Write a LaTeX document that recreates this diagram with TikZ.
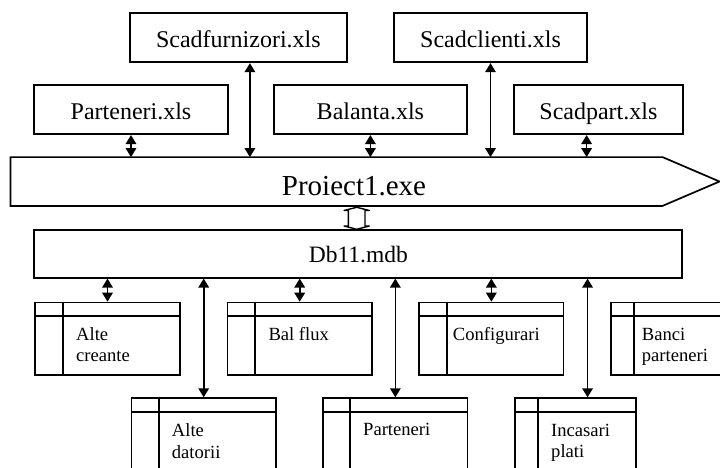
\documentclass[tikz,border=0pt]{standalone}
\usepackage{fontspec}
\setmainfont{Liberation Serif}
\usetikzlibrary{arrows.meta,calc}

\tikzset{
  box/.style={draw, rectangle, line width=1.7pt, inner sep=0pt},
  filebox/.style={box, minimum height=49pt, font=\fontsize{24}{28}\selectfont,
                  text height=19pt, text depth=0pt},
  tbl/.style={box, anchor=north west},
  tline/.style={line width=1.7pt},
  tlabel/.style={anchor=base west, inner sep=0pt, font=\fontsize{18.6}{22}\selectfont},
  dbl/.style={line width=1.6pt, {Triangle[width=10.5pt,length=9pt]}-{Triangle[width=10.5pt,length=9pt]}},
}

\begin{document}
\begin{tikzpicture}[x=1pt, y=-1pt]
\useasboundingbox (0,0) rectangle (720,467);
\clip (0,0) rectangle (720,467);

% spreadsheet files
\node[filebox, minimum width=216.7pt] (scf) at (238.4,37.8) {Scadfurnizori.xls};
\node[filebox, minimum width=192.4pt] (scc) at (490.5,37.8) {Scadclienti.xls};
\node[filebox, minimum width=193.4pt] (par) at (131,109.7) {Parteneri.xls};
\node[filebox, minimum width=192.7pt] (bal) at (370.4,109.7) {Balanta.xls};
\node[filebox, minimum width=168.7pt] (scp) at (598.4,109.7) {Scadpart.xls};

% executable (pointed bar)
\node[rectangle, inner sep=0pt, minimum width=651.6pt, minimum height=48.4pt] (exe) at (336.5,181.5) {};
\draw[line width=1.7pt, line join=miter]
  (exe.north west) -- (exe.north east) -- ($(exe.east)+(57,0)$)
  -- (exe.south east) -- (exe.south west) -- cycle;
\node[anchor=base, inner sep=0pt, font=\fontsize{29}{34}\selectfont] (exelbl) at (354,195) {Proiect1.exe};

% database
\node[box, minimum width=648pt, minimum height=47.7pt, font=\fontsize{23.5}{28}\selectfont,
      text height=17pt, text depth=0pt] (db) at (358.3,253.85) {Db11.mdb};

% link between executable and database
\coordinate (link) at (356.7,218.3);
\draw[line width=1.4pt, line join=round, shift={(link)}]
  (0,-11) -- (12.6,-7.8) -- (8.3,-7.8) -- (8.3,7.7) -- (12.6,7.7) -- (0,11)
  -- (-12.6,7.7) -- (-8.3,7.7) -- (-8.3,-7.8) -- (-12.6,-7.8) -- cycle;

% connectors files <-> executable
\coordinate (scfa) at ([xshift=11.5pt]scf.south);
\coordinate (scpa) at ([xshift=-11.8pt]scp.south);
\draw[dbl] (par.south) -- (par.south |- exe.north);
\draw[dbl] (scfa) -- (scfa |- exe.north);
\draw[dbl] (bal.south) -- (bal.south |- exe.north);
\draw[dbl] (scc.south) -- (scc.south |- exe.north);
\draw[dbl] (scpa) -- (scpa |- exe.north);

% tables, upper row
\node[tbl, minimum width=144.7pt, minimum height=72.6pt] (ac) at (34.3,301.7) {};
\draw[tline] ([yshift=-14pt]ac.north west) -- ([yshift=-14pt]ac.north east);
\draw[tline] ([xshift=28.4pt]ac.north west) -- ([xshift=28.4pt]ac.south west);
\node[tlabel] (ac1) at ([xshift=41.7pt,yshift=-38.3pt]ac.north west) {Alte};
\node[tlabel] (ac2) at ([xshift=41.7pt,yshift=-60pt]ac.north west) {creante};

\node[tbl, minimum width=144.3pt, minimum height=72.6pt] (bf) at (226.7,301.7) {};
\draw[tline] ([yshift=-14pt]bf.north west) -- ([yshift=-14pt]bf.north east);
\draw[tline] ([xshift=28.3pt]bf.north west) -- ([xshift=28.3pt]bf.south west);
\node[tlabel] (bf1) at ([xshift=41.6pt,yshift=-38.3pt]bf.north west) {Bal flux};

\node[tbl, minimum width=144.4pt, minimum height=72.6pt] (cf) at (418.3,301.7) {};
\draw[tline] ([yshift=-14pt]cf.north west) -- ([yshift=-14pt]cf.north east);
\draw[tline] ([xshift=28.4pt]cf.north west) -- ([xshift=28.4pt]cf.south west);
\node[tlabel] (cf1) at ([xshift=34.4pt,yshift=-38.3pt]cf.north west) {Configurari};

\node[tbl, minimum width=150pt, minimum height=72.6pt] (bp) at (610,301.7) {};
\draw[tline] ([yshift=-14pt]bp.north west) -- ([yshift=-14pt]bp.north east);
\draw[tline] ([xshift=24.3pt]bp.north west) -- ([xshift=24.3pt]bp.south west);
\node[tlabel] (bp1) at ([xshift=31.7pt,yshift=-38.3pt]bp.north west) {Banci};
\node[tlabel] (bp2) at ([xshift=31.7pt,yshift=-60pt]bp.north west) {parteneri};

% tables, lower row
\node[tbl, minimum width=144.3pt, minimum height=90pt] (ad) at (130.7,397.3) {};
\draw[tline] ([yshift=-15pt]ad.north west) -- ([yshift=-15pt]ad.north east);
\draw[tline] ([xshift=28.3pt]ad.north west) -- ([xshift=28.3pt]ad.south west);
\node[tlabel] (ad1) at ([xshift=41pt,yshift=-39.4pt]ad.north west) {Alte};
\node[tlabel] (ad2) at ([xshift=41pt,yshift=-61pt]ad.north west) {datorii};

\node[tbl, minimum width=144.4pt, minimum height=90pt] (pt) at (322.3,397.3) {};
\draw[tline] ([yshift=-15pt]pt.north west) -- ([yshift=-15pt]pt.north east);
\draw[tline] ([xshift=27.7pt]pt.north west) -- ([xshift=27.7pt]pt.south west);
\node[tlabel] (pt1) at ([xshift=40.7pt,yshift=-38.5pt]pt.north west) {Parteneri};

\node[tbl, minimum width=121pt, minimum height=90pt] (ip) at (514,397.3) {};
\draw[tline] ([yshift=-15pt]ip.north west) -- ([yshift=-15pt]ip.north east);
\draw[tline] ([xshift=23.7pt]ip.north west) -- ([xshift=23.7pt]ip.south west);
\node[tlabel] (ip1) at ([xshift=37pt,yshift=-39pt]ip.north west) {Incasari};
\node[tlabel] (ip2) at ([xshift=37pt,yshift=-60.5pt]ip.north west) {plati};

% connectors database <-> tables
\coordinate (ipa) at ([xshift=12.2pt]ip.north);
\draw[dbl] (ac.north |- db.south) -- (ac.north);
\draw[dbl] (ad.north |- db.south) -- (ad.north);
\draw[dbl] (bf.north |- db.south) -- (bf.north);
\draw[dbl] (pt.north |- db.south) -- (pt.north);
\draw[dbl] (cf.north |- db.south) -- (cf.north);
\draw[dbl] (ipa |- db.south) -- (ipa);
\end{tikzpicture}
\end{document}
